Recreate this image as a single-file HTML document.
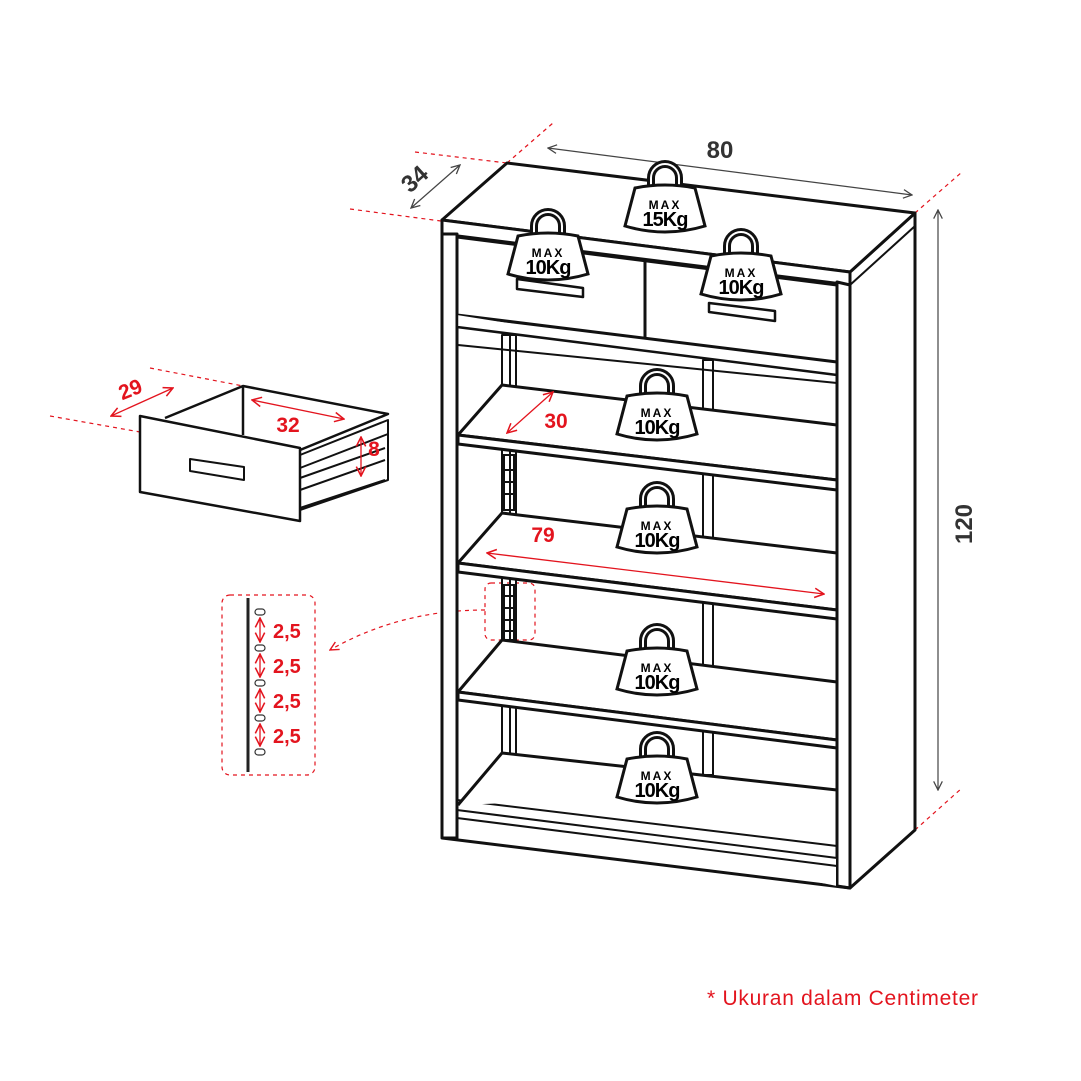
<!DOCTYPE html>
<html><head><meta charset="utf-8"><style>
html,body{margin:0;padding:0;background:#fff;width:1081px;height:1081px;overflow:hidden}
svg{display:block}
text{font-family:"Liberation Sans",sans-serif;font-weight:bold}
</style></head><body>
<svg width="1081" height="1081" viewBox="0 0 1081 1081" xmlns="http://www.w3.org/2000/svg">
<defs>
<marker id="ag" viewBox="0 0 10 10" refX="9" refY="5" markerWidth="9" markerHeight="9" orient="auto-start-reverse"><path d="M1,1 L9,5 L1,9" fill="none" stroke="#444" stroke-width="1.2"/></marker>
<marker id="ar" viewBox="0 0 10 10" refX="9" refY="5" markerWidth="9" markerHeight="9" orient="auto-start-reverse"><path d="M1,1 L9,5 L1,9" fill="none" stroke="#e3141e" stroke-width="1.3"/></marker>
<g id="w">
<path d="M-14,-20 L-14,-30 A14,14 0 0 1 14,-30 L14,-20" fill="#fff" stroke="#111" stroke-width="8"/>
<path d="M-14,-20 L-14,-30 A14,14 0 0 1 14,-30 L14,-20" fill="none" stroke="#fff" stroke-width="2"/>
<path d="M-40,18 L-30,-20 Q0,-26 30,-20 L40,18 Q0,30 -40,18 Z" fill="#fff" stroke="#111" stroke-width="3"/>
</g>
</defs>

<g stroke="#e3141e" stroke-width="1.2" stroke-dasharray="4,4" fill="none">
<line x1="350" y1="209" x2="441" y2="221"/>
<line x1="415" y1="152" x2="507" y2="163"/>
<line x1="507" y1="163" x2="553" y2="123"/>
<line x1="915" y1="213" x2="962" y2="172"/>
<line x1="915" y1="830" x2="962" y2="788"/>
<line x1="50" y1="416" x2="140" y2="432"/>
<line x1="150" y1="368" x2="243" y2="386"/>
<path d="M485,610 Q400,610 330,650" marker-end="url(#ar)"/>
<rect x="485" y="583" width="50" height="57" rx="6"/>
<rect x="222" y="595" width="93" height="180" rx="8"/>
</g>

<g stroke="#444" stroke-width="1.2" fill="none">
<line x1="548" y1="148" x2="912" y2="195" marker-start="url(#ag)" marker-end="url(#ag)"/>
<line x1="411" y1="208" x2="460" y2="165" marker-start="url(#ag)" marker-end="url(#ag)"/>
<line x1="938" y1="210" x2="938" y2="790" marker-start="url(#ag)" marker-end="url(#ag)"/>
</g>
<text x="720" y="158" font-size="24" fill="#333" text-anchor="middle">80</text>
<text x="0" y="0" font-size="24" fill="#333" text-anchor="middle" transform="translate(420,185) rotate(-42)">34</text>
<text x="0" y="0" font-size="24" fill="#333" text-anchor="middle" transform="translate(972,524) rotate(-90)">120</text>

<g stroke="#111" stroke-width="3" fill="#fff" stroke-linejoin="round">
<path d="M850,272 L915,213 L915,830 L850,888 Z"/>
<path d="M442,220 L507,163 L915,213 L850,272 Z"/>
<path d="M442,220 L850,272 L850,285 L442,234 Z"/>
<path d="M850,285 L915,226" stroke-width="2"/>
<rect x="442" y="234" width="15" height="604"/>
<path d="M837,282 L850,285 L850,888 L837,886 Z"/>
<path d="M442,838 L850,888" />
<path d="M457,810 L837,858 L837,886" stroke-width="2"/>
<path d="M457,818 L837,866" stroke-width="2"/>
<path d="M457,800 L837,846" stroke-width="2"/>
<path d="M457,237 L837,285 L837,362 L457,315 Z"/>
<line x1="645" y1="262" x2="645" y2="338"/>
<path d="M457,315 L457,327 L837,375" stroke-width="2.5"/>
<path d="M517,279 L583,288 L583,297 L517,289 Z" stroke-width="2.5"/>
<path d="M709,303 L775,311 L775,321 L709,312 Z" stroke-width="2.5"/>
<g stroke-width="2">
<rect x="502" y="335" width="14" height="460" fill="none"/>
<line x1="510" y1="335" x2="510" y2="795"/>
<rect x="703" y="360" width="10" height="415" fill="none"/>
</g>
<path d="M458,435 L502,385 L837,425 L837,480 Z"/>
<path d="M458,435 L837,480 L837,490 L458,444 Z"/>
<path d="M458,563 L502,513 L837,553 L837,610 Z"/>
<path d="M458,563 L837,610 L837,619 L458,572 Z"/>
<path d="M458,692 L502,640 L837,682 L837,740 Z"/>
<path d="M458,692 L837,740 L837,748 L458,700 Z"/>
<path d="M458,805 L502,753 L837,790"/>
</g>
<g fill="none" stroke="#111" stroke-width="2">
<path d="M458,345 L837,383"/>
<rect x="504" y="585" width="10" height="55"/>
<line x1="505" y1="596" x2="513" y2="596"/><line x1="505" y1="608" x2="513" y2="608"/><line x1="505" y1="620" x2="513" y2="620"/><line x1="505" y1="631" x2="513" y2="631"/>
<rect x="504" y="455" width="10" height="55"/>
<line x1="505" y1="470" x2="513" y2="470"/><line x1="505" y1="482" x2="513" y2="482"/><line x1="505" y1="494" x2="513" y2="494"/>
</g>

<g>
<use href="#w" x="665" y="208"/><text x="665" y="209" font-size="12" text-anchor="middle" letter-spacing="2">MAX</text><text x="665" y="226" font-size="20" text-anchor="middle" letter-spacing="-1">15Kg</text>
<use href="#w" x="548" y="256"/><text x="548" y="257" font-size="12" text-anchor="middle" letter-spacing="2">MAX</text><text x="548" y="274" font-size="20" text-anchor="middle" letter-spacing="-1">10Kg</text>
<use href="#w" x="741" y="276"/><text x="741" y="277" font-size="12" text-anchor="middle" letter-spacing="2">MAX</text><text x="741" y="294" font-size="20" text-anchor="middle" letter-spacing="-1">10Kg</text>
<use href="#w" x="657" y="416"/><text x="657" y="417" font-size="12" text-anchor="middle" letter-spacing="2">MAX</text><text x="657" y="434" font-size="20" text-anchor="middle" letter-spacing="-1">10Kg</text>
<use href="#w" x="657" y="529"/><text x="657" y="530" font-size="12" text-anchor="middle" letter-spacing="2">MAX</text><text x="657" y="547" font-size="20" text-anchor="middle" letter-spacing="-1">10Kg</text>
<use href="#w" x="657" y="671"/><text x="657" y="672" font-size="12" text-anchor="middle" letter-spacing="2">MAX</text><text x="657" y="689" font-size="20" text-anchor="middle" letter-spacing="-1">10Kg</text>
<use href="#w" x="657" y="779"/><text x="657" y="780" font-size="12" text-anchor="middle" letter-spacing="2">MAX</text><text x="657" y="797" font-size="20" text-anchor="middle" letter-spacing="-1">10Kg</text>
</g>

<g stroke="#e3141e" stroke-width="1.3" fill="none">
<line x1="507" y1="433" x2="553" y2="392" marker-start="url(#ar)" marker-end="url(#ar)"/>
<line x1="487" y1="553" x2="824" y2="594" marker-start="url(#ar)" marker-end="url(#ar)"/>
</g>
<text x="556" y="428" font-size="21" fill="#e3141e" text-anchor="middle">30</text>
<text x="543" y="542" font-size="21" fill="#e3141e" text-anchor="middle">79</text>

<g stroke="#111" stroke-width="2.5" fill="#fff" stroke-linejoin="round">
<path d="M165,418 L243,386 L388,414 L300,450"/>
<line x1="243" y1="386" x2="243" y2="435"/>
<path d="M300,455 L388,420 L388,480 L300,510" stroke-width="2"/>
<path d="M300,478 L385,448 M300,490 L385,460 M300,508 L385,480" fill="none" stroke-width="2"/>
<path d="M300,468 L388,434" fill="none" stroke-width="2"/>
<path d="M140,416 L300,448 L300,521 L140,492 Z"/>
<path d="M190,459 L244,467 L244,480 L190,471 Z" stroke-width="2"/>
</g>
<g stroke="#e3141e" stroke-width="1.3" fill="none">
<line x1="111" y1="416" x2="173" y2="388" marker-start="url(#ar)" marker-end="url(#ar)"/>
<line x1="252" y1="400" x2="344" y2="419" marker-start="url(#ar)" marker-end="url(#ar)"/>
<line x1="361" y1="437" x2="361" y2="476" marker-start="url(#ar)" marker-end="url(#ar)"/>
</g>
<text x="0" y="0" font-size="21" fill="#e3141e" text-anchor="middle" transform="translate(133,396) rotate(-22)">29</text>
<text x="288" y="432" font-size="21" fill="#e3141e" text-anchor="middle">32</text>
<text x="374" y="456" font-size="21" fill="#e3141e" text-anchor="middle">8</text>

<line x1="248" y1="598" x2="248" y2="772" stroke="#222" stroke-width="3"/>
<g fill="#fff" stroke="#333" stroke-width="1.2">
<rect x="255" y="609" width="10" height="6" rx="3"/>
<rect x="255" y="645" width="10" height="6" rx="3"/>
<rect x="255" y="680" width="10" height="6" rx="3"/>
<rect x="255" y="715" width="10" height="6" rx="3"/>
<rect x="255" y="749" width="10" height="6" rx="3"/>
</g>
<g stroke="#e3141e" stroke-width="1.3" fill="none">
<line x1="260" y1="618" x2="260" y2="642" marker-start="url(#ar)" marker-end="url(#ar)"/>
<line x1="260" y1="654" x2="260" y2="677" marker-start="url(#ar)" marker-end="url(#ar)"/>
<line x1="260" y1="689" x2="260" y2="712" marker-start="url(#ar)" marker-end="url(#ar)"/>
<line x1="260" y1="724" x2="260" y2="746" marker-start="url(#ar)" marker-end="url(#ar)"/>
</g>
<g font-size="20" fill="#e3141e">
<text x="273" y="638">2,5</text>
<text x="273" y="673">2,5</text>
<text x="273" y="708">2,5</text>
<text x="273" y="743">2,5</text>
</g>

<text x="707" y="1005" font-size="21" fill="#e3141e" style="font-weight:normal" textLength="271" lengthAdjust="spacing">* Ukuran dalam Centimeter</text>
</svg>
</body></html>
